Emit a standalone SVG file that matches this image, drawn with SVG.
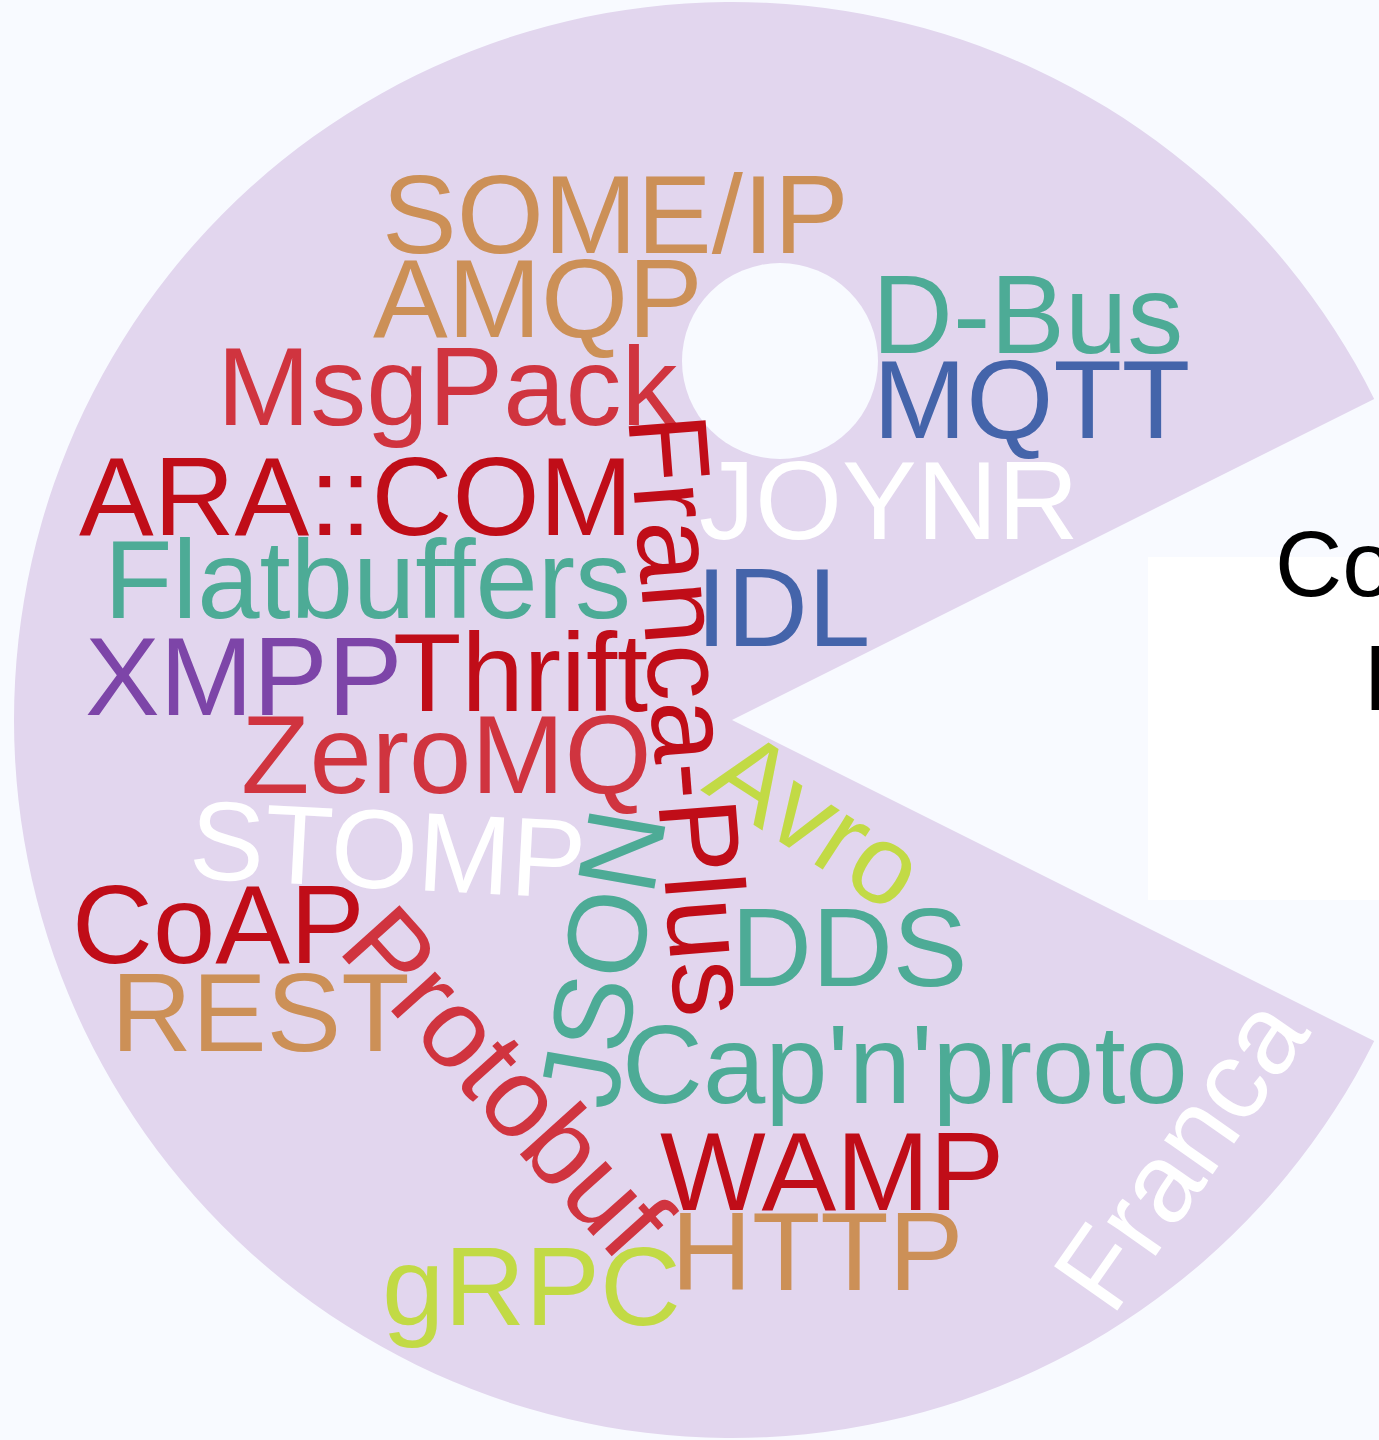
<svg xmlns="http://www.w3.org/2000/svg" width="1379" height="1440" viewBox="0 0 1379 1440">
<style>
.w{font-family:"Liberation Sans",Arial,sans-serif;font-size:112px}
.tan{fill:#cc9057}.teal{fill:#4dab96}.lred{fill:#d0343f}.dred{fill:#c00d18}
.blue{fill:#4464aa}.purple{fill:#7d45a8}.lime{fill:#c2da45}.white{fill:#ffffff}
.lbl{font-family:"Liberation Sans",Arial,sans-serif;font-size:93px;fill:#000000}
</style>
<rect x="0" y="0" width="1379" height="1440" fill="#f8faff"/>
<g id="pacman">
<path d="M 732 720 L 1374.2 398.9 A 718 718 0 1 0 1374.2 1041.1 Z" fill="#e2d6ee"/>
<circle cx="780" cy="361" r="98" fill="#f8faff"/>
</g>
<g id="label-box">
<rect x="1148" y="557" width="240" height="343" fill="#ffffff"/>
<text class="lbl" x="1275" y="596">Co</text>
<text class="lbl" x="1363" y="710">I</text>
</g>
<g id="words">
<g id="w-someip"><text class="w tan" x="382" y="253">SOME/IP</text></g>
<g id="w-amqp"><text class="w tan" x="373" y="337">AMQP</text></g>
<g id="w-msgpack"><text class="w lred" x="217" y="425">MsgPack</text></g>
<g id="w-aracom"><text class="w dred" x="79" y="535">ARA::COM</text></g>
<g id="w-flatbuffers"><text class="w teal" x="104" y="618">Flatbuffers</text></g>
<g id="w-xmpp"><text class="w purple" x="85" y="715">XMPP</text></g>
<g id="w-thrift"><text class="w dred" x="393" y="711">Thrift</text></g>
<g id="w-zeromq"><text class="w lred" x="241" y="793">ZeroMQ</text></g>
<g id="w-stomp"><text class="w white" transform="translate(188,878) rotate(3)">STOMP</text></g>
<g id="w-coap"><text class="w dred" x="72" y="963">CoAP</text></g>
<g id="w-rest"><text class="w tan" x="111" y="1051">REST</text></g>
<g id="w-protobuf"><text class="w lred" transform="translate(336,950) rotate(48)">Protobuf</text></g>
<g id="w-json"><text class="w teal" transform="translate(615,1112) rotate(-80)">JSON</text></g>
<g id="w-francaplus"><text class="w dred" transform="translate(628,417) rotate(85.5)">Franca-Plus</text></g>
<g id="w-avro"><text class="w lime" transform="translate(700,790) rotate(33)">Avro</text></g>
<g id="w-dds"><text class="w teal" x="731" y="986">DDS</text></g>
<g id="w-capnproto"><text class="w teal" x="622" y="1103">Cap'n'proto</text></g>
<g id="w-wamp"><text class="w dred" x="660" y="1210">WAMP</text></g>
<g id="w-http"><text class="w tan" x="671" y="1290">HTTP</text></g>
<g id="w-grpc"><text class="w lime" x="382" y="1325">gRPC</text></g>
<g id="w-franca"><text class="w white" transform="translate(1112,1318) rotate(-55)">Franca</text></g>
<g id="w-dbus"><text class="w teal" x="872" y="353">D-Bus</text></g>
<g id="w-mqtt"><text class="w blue" x="873" y="438">MQTT</text></g>
<g id="w-joynr"><text class="w white" x="699" y="539">JOYNR</text></g>
<g id="w-idl"><text class="w blue" x="696" y="646">IDL</text></g>
</g>
</svg>
